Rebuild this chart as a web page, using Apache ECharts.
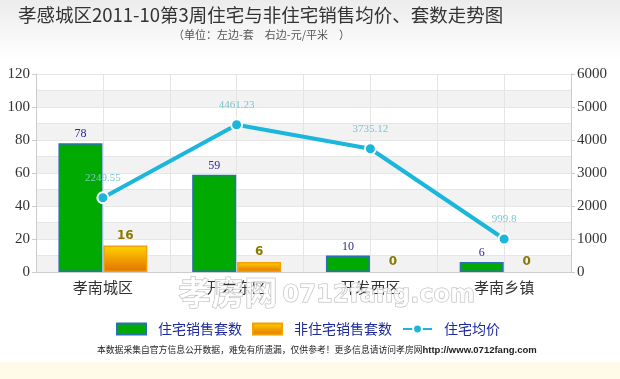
<!DOCTYPE html>
<html><head><meta charset="utf-8">
<script src="https://cdn.jsdelivr.net/npm/echarts@6/dist/echarts.min.js"></script>
<style>html,body{margin:0;padding:0;background:#fff}#c{width:620px;height:379px}</style>
</head><body><div id="c"></div>
<script>
const categories = ['孝南城区', '开发东区', '开发西区', '孝南乡镇'];
const residentialCount = [78, 59, 10, 6];
const nonResidentialCount = [16, 6, 0, 0];
const avgPrice = [2249.55, 4461.23, 3735.12, 999.8];
const leftTicks = [0, 120, 20];
const rightTicks = [0, 6000, 1000];

const chart = echarts.init(document.getElementById('c'));
const serif = '"Liberation Serif","Noto Sans CJK SC",serif';
const cjk = '"Noto Sans CJK SC",sans-serif';
const hideZero = v => v === 0 ? {value: 0, itemStyle: {borderWidth: 0, opacity: 0}} : v;
chart.setOption({
  animation: false,
  backgroundColor: '#fff',
  graphic: [
    {type:'rect', left:0, top:0, shape:{width:620,height:60}, z:-10, silent:true,
     style:{fill:new echarts.graphic.LinearGradient(0,0,0,1,[{offset:0,color:'#ececec'},{offset:1,color:'#ffffff'}])}},
    {type:'rect', left:0, top:362, shape:{width:620,height:17}, z:-10, silent:true, style:{fill:'#fffbe8'}},
    {type:'text', left:18, top:6, style:{text:'孝感城区2011-10第3周住宅与非住宅销售均价、套数走势图', font:'18.5px '+cjk, fill:'#333'}},
    {type:'text', left:173, top:29, style:{text:'（单位：左边-套　右边-元/平米　）', font:'11px '+cjk, fill:'#555'}},
    {type:'text', left:178, top:275, z:100, style:{text:'孝房网', font:'bold 33px '+cjk, fill:'rgba(255,255,255,0.75)', stroke:'#b8b8b8', lineWidth:1}},
    {type:'text', left:282, top:283, z:100, style:{text:'0712fang.com', font:'bold 24px "DejaVu Sans",sans-serif', fill:'rgba(255,255,255,0.75)', stroke:'#b8b8b8', lineWidth:1}},
    {type:'text', left:97, top:345, style:{
      text:'{a|本数据采集自官方信息公开数据，难免有所遗漏，仅供参考！更多信息请访问孝房网}{b|http://www.0712fang.com}',
      rich:{a:{font:'8.8px '+cjk, fill:'#222'}, b:{font:'bold 9.5px "Liberation Sans",sans-serif', fill:'#222'}}}}
  ],
  legend: {
    top: 317, left: 111, itemGap: 10, itemWidth: 29, itemHeight: 11,
    textStyle: {color:'#1c2a9c', fontSize:14, fontFamily: cjk, padding:[0,0,0,7]},
    data: [
      {name:'住宅销售套数', icon:'rect'},
      {name:'非住宅销售套数', icon:'rect'},
      {name:'住宅均价'}
    ]
  },
  grid: {left:36, right:49, top:74, bottom:107},
  xAxis: [
    {type:'category', data:categories, boundaryGap:true,
     axisLine:{lineStyle:{color:'#ccc'}}, axisTick:{show:false},
     axisLabel:{color:'#333', fontSize:15, fontFamily:cjk, margin:8},
     splitLine:{show:false}},
    {type:'value', min:0, max:8, interval:1, show:true, position:'top',
     axisLine:{show:false}, axisTick:{show:false}, axisLabel:{show:false},
     splitLine:{show:true, lineStyle:{color:'#e4e4e4'}}}
  ],
  yAxis: [
    {type:'value', min:leftTicks[0], max:leftTicks[1], interval:leftTicks[2],
     axisLine:{show:true, lineStyle:{color:'#ccc'}}, axisTick:{show:true, length:4, lineStyle:{color:'#ccc'}},
     axisLabel:{color:'#333', fontSize:15, fontFamily:serif, margin:6},
     splitLine:{show:false}},
    {type:'value', min:rightTicks[0], max:rightTicks[1], interval:rightTicks[2],
     axisLine:{show:true, lineStyle:{color:'#ccc'}}, axisTick:{show:true, length:4, lineStyle:{color:'#ccc'}},
     axisLabel:{color:'#333', fontSize:15, fontFamily:serif, margin:6, formatter: v => String(v)},
     splitLine:{show:false}},
    {type:'value', min:0, max:120, interval:10, show:true, position:'left',
     axisLine:{show:false}, axisTick:{show:false}, axisLabel:{show:false},
     splitLine:{show:true, lineStyle:{color:'#e6e6e6'}},
     splitArea:{show:true, areaStyle:{color:['#f2f2f2','#ffffff']}}}
  ],
  series: [
    {name:'住宅销售套数', type:'bar', data:residentialCount, barWidth:44, barGap:'2%', yAxisIndex:0, xAxisIndex:0,
     itemStyle:{color:'#00aa00', borderColor:'#2a6fb8', borderWidth:1.5},
     label:{show:true, position:'top', color:'#2a2a9a', fontSize:12, fontFamily:serif, distance:3}},
    {name:'非住宅销售套数', type:'bar', data:nonResidentialCount.map(hideZero), barWidth:44, yAxisIndex:0, xAxisIndex:0,
     itemStyle:{color:new echarts.graphic.LinearGradient(0,0,0,1,[{offset:0,color:'#ffd400'},{offset:1,color:'#e27000'}]), borderColor:'#f2a200', borderWidth:1.5},
     label:{show:true, position:'top', color:'#8a7800', fontSize:12, fontWeight:'bold', fontFamily:'"DejaVu Sans",sans-serif', distance:4, opacity:1}},
    {name:'住宅均价', type:'line', data:avgPrice, yAxisIndex:1, xAxisIndex:0,
     symbol:'circle', symbolSize:11, z:10,
     lineStyle:{color:'#1bb6dc', width:4},
     itemStyle:{color:'#1bb6dc', borderColor:'#fff', borderWidth:2},
     label:{show:true, position:'top', color:'#7cc7cc', fontSize:11, fontFamily:serif, distance:8}}
  ]
});
</script></body></html>
